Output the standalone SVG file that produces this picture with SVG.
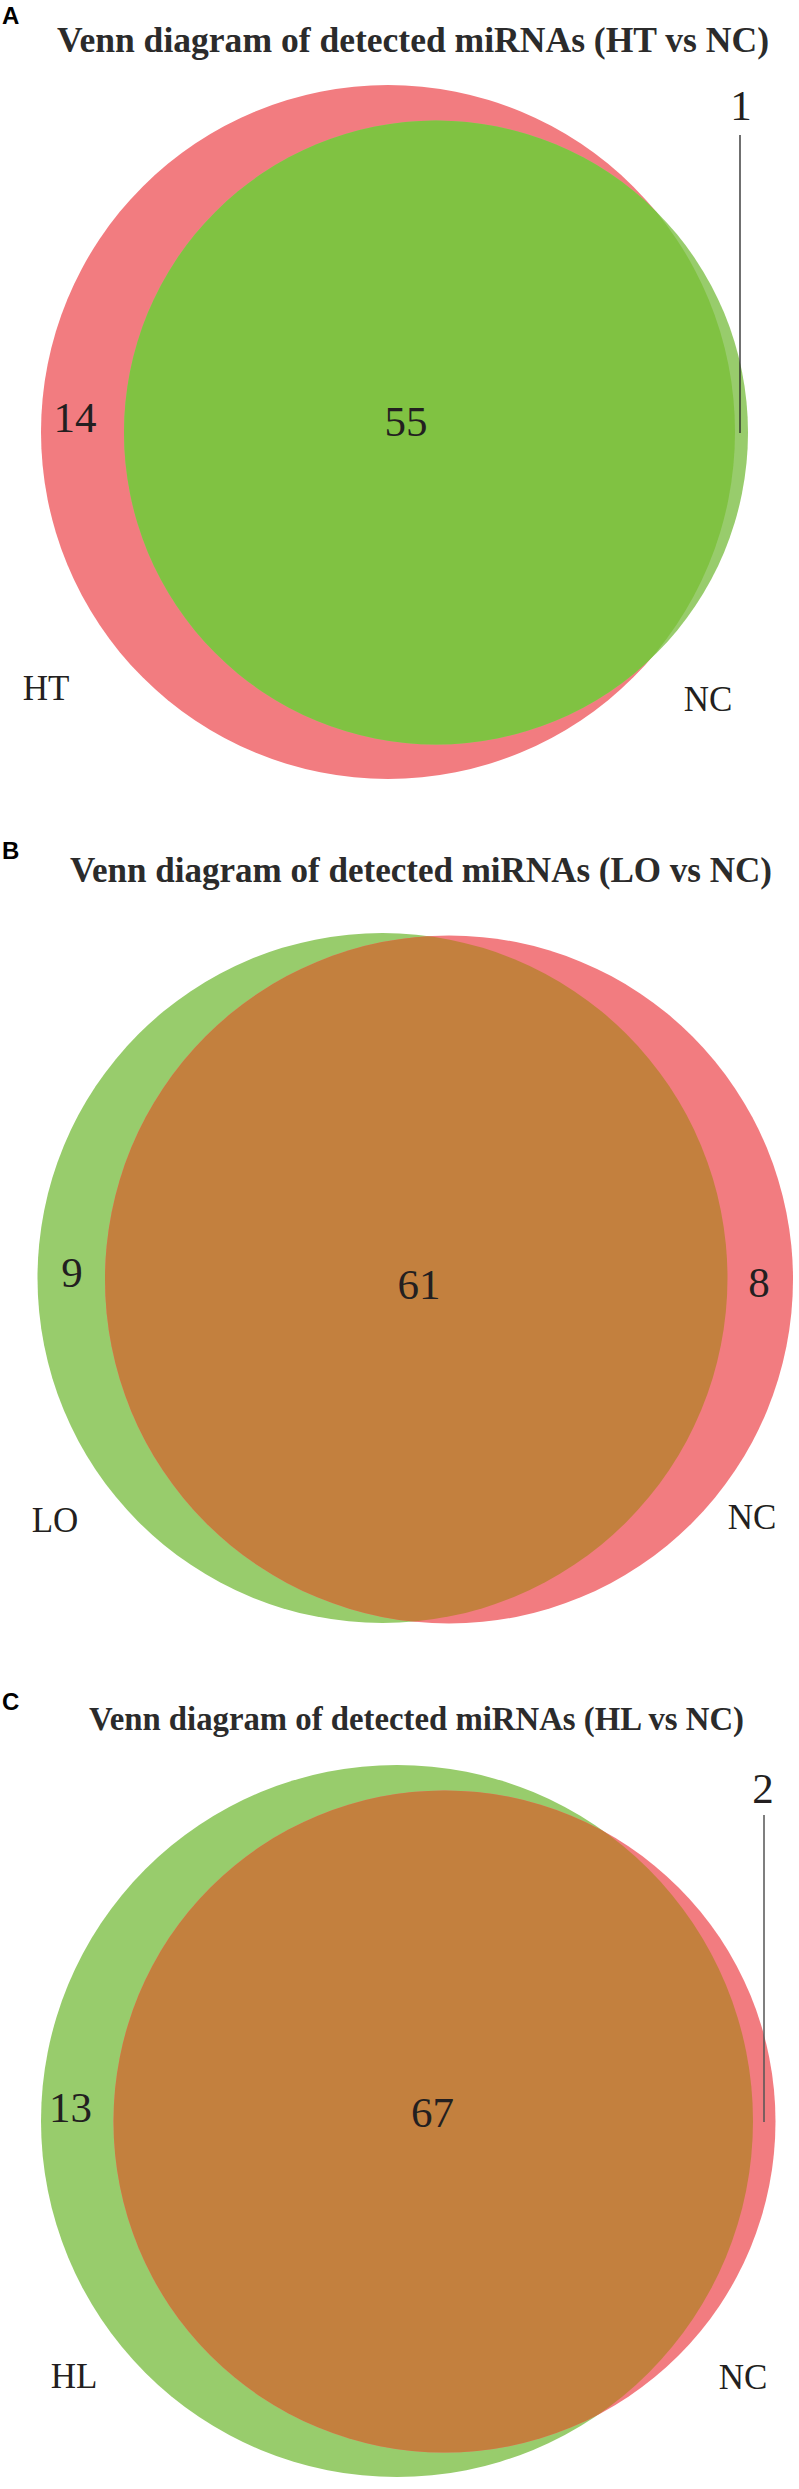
<svg xmlns="http://www.w3.org/2000/svg" width="799" height="2489" viewBox="0 0 799 2489">
<style>
.title{font-family:"Liberation Serif","Times New Roman",serif;font-weight:bold;fill:#2b2b2b}
.panel{font-family:"Liberation Sans",Arial,sans-serif;font-weight:bold;font-size:24px;fill:#000}
.num{font-family:"Liberation Serif","Times New Roman",serif;font-size:43px;fill:#231f20;text-anchor:middle}
.lab{font-family:"Liberation Serif","Times New Roman",serif;font-size:35px;fill:#231f20;text-anchor:middle}
.pink{fill:#f27c80}
.lgreen{fill:#98cc6c}
.dgreen{fill:#80c242}
.brown{fill:#c3803e}
.lead{stroke-linecap:butt;fill:none}
</style>
<defs>
<clipPath id="clipA"><circle cx="388" cy="432" r="347"/></clipPath>
<clipPath id="clipB"><circle cx="449" cy="1279.5" r="344"/></clipPath>
<clipPath id="clipC"><circle cx="444.5" cy="2121.5" r="331"/></clipPath>
</defs>
<rect width="799" height="2489" fill="#fff"/>

<g id="panelA">
<text class="panel" x="2" y="24">A</text>
<text class="title" x="57" y="52" font-size="35" textLength="712" lengthAdjust="spacingAndGlyphs">Venn diagram of detected miRNAs (HT vs NC)</text>
<g id="A-HT"><circle class="pink" cx="388" cy="432" r="347"/></g>
<g id="A-NC"><circle class="lgreen" cx="436" cy="432.5" r="312"/></g>
<g id="A-overlap"><circle class="dgreen" cx="436" cy="432.5" r="312" clip-path="url(#clipA)"/></g>
<text class="num" x="75" y="432">14</text>
<text class="num" x="406" y="436">55</text>
<text class="num" x="741" y="120">1</text>
<text class="lab" x="46" y="700">HT</text>
<text class="lab" x="708" y="711">NC</text>
</g>

<g id="panelB">
<text class="panel" x="2" y="859">B</text>
<text class="title" x="70" y="882" font-size="35" textLength="702" lengthAdjust="spacingAndGlyphs">Venn diagram of detected miRNAs (LO vs NC)</text>
<g id="B-LO"><circle class="lgreen" cx="382.5" cy="1278" r="345"/></g>
<g id="B-NC"><circle class="pink" cx="449" cy="1279.5" r="344"/></g>
<g id="B-overlap"><circle class="brown" cx="382.5" cy="1278" r="345" clip-path="url(#clipB)"/></g>
<text class="num" x="72" y="1287">9</text>
<text class="num" x="419" y="1299">61</text>
<text class="num" x="759" y="1297">8</text>
<text class="lab" x="55" y="1532">LO</text>
<text class="lab" x="752" y="1529">NC</text>
</g>

<g id="panelC">
<text class="panel" x="2" y="1710">C</text>
<text class="title" x="89" y="1730" font-size="33" textLength="655" lengthAdjust="spacingAndGlyphs">Venn diagram of detected miRNAs (HL vs NC)</text>
<g id="C-HL"><circle class="lgreen" cx="397" cy="2121" r="356"/></g>
<g id="C-NC"><circle class="pink" cx="444.5" cy="2121.5" r="331"/></g>
<g id="C-overlap"><circle class="brown" cx="397" cy="2121" r="356" clip-path="url(#clipC)"/></g>
<text class="num" x="70.5" y="2122">13</text>
<text class="num" x="432.5" y="2127">67</text>
<text class="num" x="763" y="1803">2</text>
<text class="lab" x="74" y="2388">HL</text>
<text class="lab" x="743" y="2389">NC</text>
</g>

<g id="connectors">
<line class="lead" x1="740" y1="135" x2="740" y2="433" stroke="#222" stroke-width="1.3"/>
<line class="lead" x1="764" y1="1815" x2="764" y2="2122" stroke="#555" stroke-width="1.5"/>
</g>
</svg>
